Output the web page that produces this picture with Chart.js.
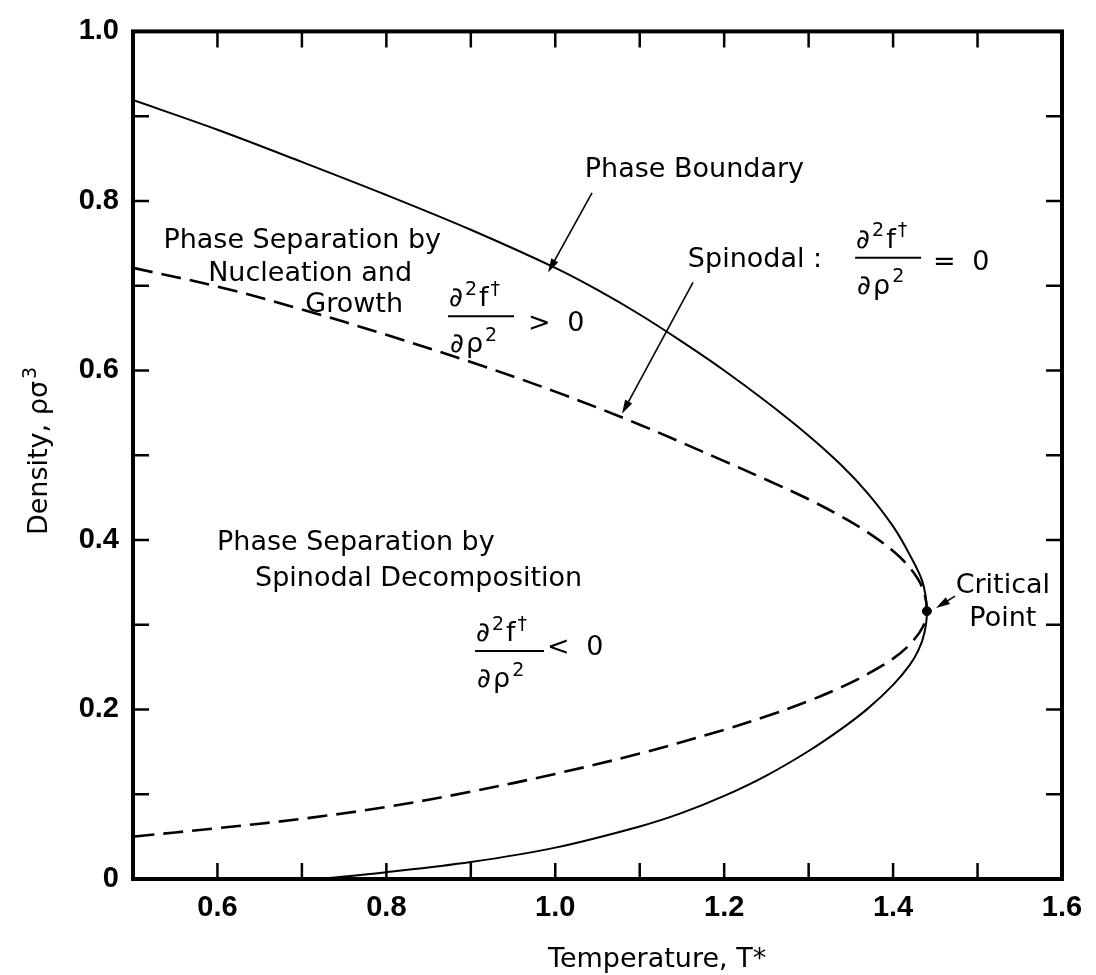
<!DOCTYPE html>
<html>
<head>
<meta charset="utf-8">
<title>Phase diagram</title>
<script src="https://cdn.jsdelivr.net/npm/chart.js@4.4.1/dist/chart.umd.min.js"></script>
<style>
  html, body { margin: 0; padding: 0; background: #fff; }
  #wrap { width: 1096px; height: 975px; }
</style>
</head>
<body>
<div id="wrap"><canvas id="phase-chart" width="1096" height="975"></canvas></div>
<script>
// Coexistence curve, traced from the liquid side round the critical point to the vapour side
const boundaryT   = [0.5, 0.6, 0.7, 0.8, 0.9, 1.0, 1.05, 1.1, 1.15, 1.2, 1.25, 1.3, 1.34, 1.37, 1.4, 1.42, 1.435, 1.44,
                     1.437, 1.43, 1.42, 1.4, 1.37, 1.34, 1.3, 1.25, 1.2, 1.15, 1.1, 1.0, 0.9, 0.8, 0.72];
const boundaryRho = [0.919, 0.884, 0.846, 0.807, 0.766, 0.721, 0.695, 0.666, 0.634, 0.600, 0.563, 0.523, 0.487, 0.455, 0.416, 0.382, 0.35, 0.316,
                     0.29, 0.27, 0.253, 0.229, 0.201, 0.178, 0.151, 0.122, 0.098, 0.078, 0.062, 0.037, 0.02, 0.008, 0.0];

// Spinodal, same direction
const spinodalT   = [0.5, 0.6, 0.7, 0.8, 0.9, 1.0, 1.1, 1.2, 1.25, 1.3, 1.34, 1.37, 1.4, 1.42, 1.435, 1.44,
                     1.435, 1.42, 1.4, 1.37, 1.34, 1.3, 1.25, 1.2, 1.1, 1.0, 0.9, 0.8, 0.7, 0.6, 0.5];
const spinodalRho = [0.721, 0.699, 0.672, 0.642, 0.610, 0.575, 0.536, 0.493, 0.471, 0.448, 0.427, 0.409, 0.387, 0.367, 0.343, 0.316,
                     0.297, 0.277, 0.26, 0.242, 0.227, 0.21, 0.192, 0.176, 0.148, 0.124, 0.103, 0.085, 0.071, 0.06, 0.05];

const criticalT = [1.44];
const criticalRho = [0.316];

// tick marks every 0.1, labels only on some of them
const xTicks = [0.6, 0.7, 0.8, 0.9, 1.0, 1.1, 1.2, 1.3, 1.4, 1.5];
const yTicks = [0.1, 0.2, 0.3, 0.4, 0.5, 0.6, 0.7, 0.8, 0.9];
const xTickLabels = ['0.6', '0.8', '1.0', '1.2', '1.4', '1.6'];
const yTickLabels = ['0', '0.2', '0.4', '0.6', '0.8', '1.0'];

const FAMILY = '"DejaVu Sans", "Liberation Sans", sans-serif';
const TICK_FAMILY = '"Liberation Sans", Arial, sans-serif';
const SIZE = 27;

// text notes placed at (T, rho)
const notes = [
    { text: 'Phase Boundary', t: 1.035, r: 0.828, align: 'left' },
    { text: 'Phase Separation by', t: 0.536, r: 0.745, align: 'left' },
    { text: 'Nucleation and', t: 0.589, r: 0.706, align: 'left' },
    { text: 'Growth', t: 0.704, r: 0.669, align: 'left' },
    { text: 'Spinodal :', t: 1.157, r: 0.7215, align: 'left' },
    { text: 'Phase Separation by', t: 0.5995, r: 0.388, align: 'left' },
    { text: 'Spinodal Decomposition', t: 0.6445, r: 0.3455, align: 'left' },
    { text: 'Critical', t: 1.530, r: 0.337, align: 'center' },
    { text: 'Point', t: 1.530, r: 0.2985, align: 'center' }
];

// second-derivative fractions: bar start at (T, rho), then what follows the bar
const fractions = [
    { t: 0.873, r: 0.664, width: 66, tail: '> 0', tailDx: 80, tailDy: 15 },
    { t: 1.355, r: 0.733, width: 66, tail: '= 0', tailDx: 78, tailDy: 12 },
    { t: 0.905, r: 0.269, width: 69, tail: '< 0', tailDx: 72, tailDy: 4 }
];

// arrows: from (t1, r1) to (t2, r2)
const arrows = [
    { t1: 1.0435, r1: 0.8096, t2: 0.9914, r2: 0.7156 },
    { t1: 1.1631, r1: 0.7039, t2: 1.079, r2: 0.5488 },
    { t1: 1.4733, r1: 0.3337, t2: 1.4508, r2: 0.3196 }
];

const numerator = [{ t: '\u2202' }, { t: '2', sup: true }, { t: 'f' }, { t: '\u2020', sup: true }];
const denominator = [{ t: '\u2202' }, { t: '\u03c1' }, { t: '2', sup: true }];
const yTitle = [{ t: 'Density, \u03c1\u03c3' }, { t: '3', sup: true }];

function toPoints(xs, ys) {
    return xs.map((v, i) => ({ x: v, y: ys[i] }));
}

// run of text with raised small pieces; returns width
function drawRich(ctx, parts, x, y, measureOnly) {
    let cx = x;
    parts.forEach(p => {
        const size = p.sup ? Math.round(SIZE * 0.7) : SIZE;
        ctx.font = size + 'px ' + FAMILY;
        if (!measureOnly) ctx.fillText(p.t, cx, p.sup ? y - SIZE * 0.42 : y);
        cx += ctx.measureText(p.t).width + 2;
    });
    return cx - x;
}

function drawArrow(ctx, x1, y1, x2, y2) {
    const ang = Math.atan2(y2 - y1, x2 - x1);
    const len = 14, half = 4;
    ctx.beginPath();
    ctx.moveTo(x1, y1);
    ctx.lineTo(x2 - Math.cos(ang) * len * 0.7, y2 - Math.sin(ang) * len * 0.7);
    ctx.stroke();
    ctx.beginPath();
    ctx.moveTo(x2, y2);
    ctx.lineTo(x2 - len * Math.cos(ang) + half * Math.sin(ang), y2 - len * Math.sin(ang) - half * Math.cos(ang));
    ctx.lineTo(x2 - len * Math.cos(ang) - half * Math.sin(ang), y2 - len * Math.sin(ang) + half * Math.cos(ang));
    ctx.closePath();
    ctx.fill();
}

const frameAndNotes = {
    id: 'frameAndNotes',
    afterDatasetsDraw(chart) {
        const { ctx, chartArea: a, scales: { x, y } } = chart;
        ctx.save();
        ctx.strokeStyle = '#000';
        ctx.fillStyle = '#000';

        // inward ticks on all four sides
        ctx.lineWidth = 2.5;
        const tickLen = 16;
        xTicks.forEach(v => {
            const px = x.getPixelForValue(v);
            ctx.beginPath();
            ctx.moveTo(px, a.bottom); ctx.lineTo(px, a.bottom - tickLen);
            ctx.moveTo(px, a.top); ctx.lineTo(px, a.top + tickLen);
            ctx.stroke();
        });
        yTicks.forEach(v => {
            const py = y.getPixelForValue(v);
            ctx.beginPath();
            ctx.moveTo(a.left, py); ctx.lineTo(a.left + tickLen, py);
            ctx.moveTo(a.right, py); ctx.lineTo(a.right - tickLen, py);
            ctx.stroke();
        });

        // heavy frame
        ctx.lineWidth = 4;
        ctx.strokeRect(a.left, a.top, a.right - a.left, a.bottom - a.top);

        // notes
        ctx.font = SIZE + 'px ' + FAMILY;
        ctx.textBaseline = 'alphabetic';
        notes.forEach(n => {
            ctx.textAlign = n.align;
            ctx.fillText(n.text, x.getPixelForValue(n.t), y.getPixelForValue(n.r));
        });

        // fractions
        ctx.textAlign = 'left';
        fractions.forEach(f => {
            const bx = x.getPixelForValue(f.t);
            const by = y.getPixelForValue(f.r);
            drawRich(ctx, numerator, bx + 1, by - 10);
            drawRich(ctx, denominator, bx + 2, by + 36);
            ctx.font = SIZE + 'px ' + FAMILY;
            ctx.letterSpacing = '4px';
            ctx.fillText(f.tail, bx + f.tailDx, by + f.tailDy);
            ctx.letterSpacing = '0px';
            ctx.lineWidth = 2;
            ctx.beginPath();
            ctx.moveTo(bx, by); ctx.lineTo(bx + f.width, by);
            ctx.stroke();
        });

        // arrows
        ctx.lineWidth = 1.6;
        arrows.forEach(r => {
            drawArrow(ctx,
                x.getPixelForValue(r.t1), y.getPixelForValue(r.r1),
                x.getPixelForValue(r.t2), y.getPixelForValue(r.r2));
        });

        // axis titles
        ctx.font = SIZE + 'px ' + FAMILY;
        ctx.textAlign = 'left';
        ctx.fillText('Temperature, T*', 548, 967);
        ctx.translate(47, 450);
        ctx.rotate(-Math.PI / 2);
        const w = drawRich(ctx, yTitle, 0, 0, true);
        drawRich(ctx, yTitle, -w / 2, 0);
        ctx.restore();
    }
};

const ctx = document.getElementById('phase-chart');
new Chart(ctx, {
    type: 'scatter',
    data: {
        datasets: [
            {
                label: 'Phase Boundary',
                data: toPoints(boundaryT, boundaryRho),
                showLine: true,
                borderColor: '#000',
                borderWidth: 2,
                pointRadius: 0,
                tension: 0.35,
                fill: false
            },
            {
                label: 'Spinodal',
                data: toPoints(spinodalT, spinodalRho),
                showLine: true,
                borderColor: '#000',
                borderWidth: 2.6,
                borderDash: [20, 9],
                pointRadius: 0,
                tension: 0.35,
                fill: false
            },
            {
                label: 'Critical Point',
                data: toPoints(criticalT, criticalRho),
                backgroundColor: '#000',
                borderColor: '#000',
                pointRadius: 4.5,
                clip: false
            }
        ]
    },
    options: {
        responsive: false,
        animation: false,
        layout: { padding: { left: 0, right: 34, top: 24, bottom: 0 } },
        plugins: {
            legend: { display: false },
            tooltip: { enabled: false }
        },
        scales: {
            x: {
                type: 'linear',
                min: 0.5,
                max: 1.6,
                grid: { display: false, drawTicks: false },
                border: { display: false },
                ticks: {
                    stepSize: 0.1,
                    autoSkip: false,
                    maxRotation: 0,
                    padding: 12,
                    color: '#000',
                    font: { family: TICK_FAMILY, size: 29, weight: 'bold' },
                    callback: v => {
                        const s = v.toFixed(1);
                        return xTickLabels.includes(s) ? s : '';
                    }
                },
                afterFit: scale => { scale.height = 96; }
            },
            y: {
                type: 'linear',
                min: 0,
                max: 1,
                grid: { display: false, drawTicks: false },
                border: { display: false },
                ticks: {
                    stepSize: 0.2,
                    padding: 14,
                    color: '#000',
                    font: { family: TICK_FAMILY, size: 29, weight: 'bold' },
                    callback: v => {
                        const s = v === 0 ? '0' : v.toFixed(1);
                        return yTickLabels.includes(s) ? s : '';
                    }
                },
                afterFit: scale => { scale.width = 133; }
            }
        }
    },
    plugins: [frameAndNotes]
});
</script>
</body>
</html>
